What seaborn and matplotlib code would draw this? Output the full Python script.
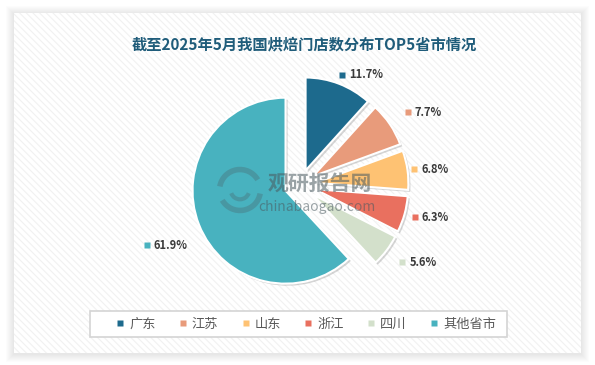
import numpy as np
import matplotlib
matplotlib.use('Agg')
import matplotlib.pyplot as plt
import seaborn as sns
from matplotlib.patches import Rectangle, Arc
from matplotlib.lines import Line2D
import matplotlib.patheffects as pe

# ---------------- data ----------------
title = '截至2025年5月我国烘焙门店数分布TOP5省市情况'
categories = ['广东', '江苏', '山东', '浙江', '四川', '其他省市']
shares = [11.7, 7.7, 6.8, 6.3, 5.6, 61.9]
value_labels = [f'{v}%' for v in shares]

# ---------------- style ----------------
colors = sns.color_palette(['#1d6a8d', '#e89b7b', '#fec273', '#e9705f', '#d3e0cb', '#48b2bf'])
label_dist = [1.27, 1.40, 1.24, 1.28, 1.38, 1.77]
explode_frac = 0.167

sns.set_theme(style='white')
plt.rcParams['font.family'] = ['Noto Sans CJK SC', 'DejaVu Sans']
plt.rcParams['hatch.linewidth'] = 0.8

W, H = 595, 365
fig = plt.figure(figsize=(W / 100, H / 100), dpi=100)
fig.patch.set_facecolor('white')


def fx(px):
    return px / W


def fy(py):
    return 1 - py / H


# card shadow
cx0, cy0, cx1, cy1 = 14, 13, 581, 353
for k in range(8, 0, -1):
    fig.add_artist(Rectangle((fx(cx0 - k), fy(cy1 + k + 1)), (cx1 - cx0 + 2 * k) / W,
                             (cy1 - cy0 + 2 * k) / H, transform=fig.transFigure,
                             facecolor='#000000', alpha=0.012, linewidth=0, zorder=0))
# card
fig.add_artist(Rectangle((fx(cx0), fy(cy1)), (cx1 - cx0) / W, (cy1 - cy0) / H,
                         transform=fig.transFigure, facecolor='white', edgecolor='#f1f1f1',
                         hatch='\\\\\\\\\\', linewidth=0, zorder=0.5))

# pie axes: true centre at (300,185) px, radius 93 px
R = 93
C = (300, 185)
L = 180
ax = fig.add_axes([fx(C[0] - L), fy(C[1] + L), 2 * L / W, 2 * L / H])
ax.set_zorder(3)
ax.patch.set_visible(False)

wedges, _ = ax.pie(shares, colors=colors, startangle=90, counterclock=False,
                   explode=[explode_frac] * len(shares), radius=1,
                   wedgeprops=dict(edgecolor='white', linewidth=1.5))
for w in wedges:
    w.set_path_effects([pe.SimplePatchShadow(offset=(1.5, -1.5), shadow_rgbFace='#777777', alpha=0.3),
                        pe.Normal()])
ax.set_xlim(-L / R, L / R)
ax.set_ylim(-L / R, L / R)
ax.set_aspect('equal')
ax.axis('off')

# data labels with coloured key squares
for i, w in enumerate(wedges):
    ang = np.deg2rad((w.theta1 + w.theta2) / 2)
    x = label_dist[i] * np.cos(ang)
    y = label_dist[i] * np.sin(ang)
    ax.plot([x], [y], marker='s', ms=3.8, color=colors[i], mec='none', ls='')
    ax.annotate(value_labels[i], (x, y), xytext=(5, 0), textcoords='offset points',
                ha='left', va='center', fontsize=8, fontweight='bold', color='#3a3a3a')

# watermark
wm_col = '#4a5a60'
lc = ((240 - C[0]) / R, (C[1] - 190) / R)
ax.add_patch(Arc(lc, 0.44, 0.44, theta1=30, theta2=170, lw=4, color=wm_col, alpha=0.3))
ax.add_patch(Arc(lc, 0.44, 0.44, theta1=210, theta2=350, lw=4, color=wm_col, alpha=0.3))
ax.add_patch(Arc(lc, 0.2, 0.2, theta1=200, theta2=340, lw=3, color=wm_col, alpha=0.3))
ax.text((320 - C[0]) / R, (C[1] - 183) / R, '观研报告网', ha='center', va='center', fontsize=15,
        fontweight='bold', color=wm_col, alpha=0.55)
ax.text((317 - C[0]) / R, (C[1] - 207) / R, 'chinabaogao.com', ha='center', va='center',
        fontsize=10, color=wm_col, alpha=0.55)

# title
fig.text(fx(304), fy(44), title, ha='center', va='center', fontsize=11,
         fontweight='bold', color='#1f5c7a')

# legend box + legend
fig.add_artist(Rectangle((fx(90), fy(337)), 417 / W, 26 / H, transform=fig.transFigure,
                         facecolor='white', edgecolor='#d4d4d4', linewidth=1.2, zorder=1))
handles = [Line2D([], [], marker='s', ls='', color=c, ms=3.8, mec='none') for c in colors]
leg = fig.legend(handles, categories, ncol=6, loc='center left',
                 bbox_to_anchor=(fx(116), fy(324)), frameon=False, fontsize=9.5,
                 labelcolor='#595959', handlelength=0.6, handletextpad=0.4,
                 columnspacing=1.75, borderpad=0, borderaxespad=0)
leg.set_zorder(4)

fig.savefig('out.png', dpi=100, facecolor='white')
